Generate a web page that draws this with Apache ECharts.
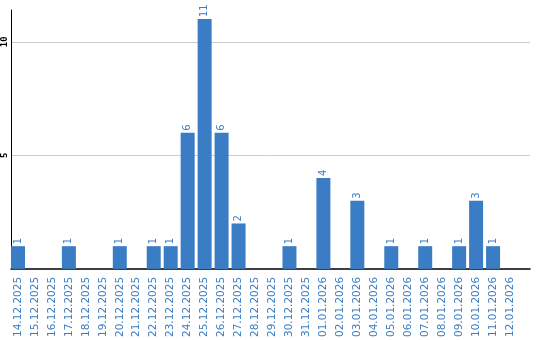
<!DOCTYPE html>
<html><head><meta charset="utf-8">
<script src="https://cdn.jsdelivr.net/npm/echarts@6/dist/echarts.min.js"></script>
<style>html,body{margin:0;padding:0;background:#fff}#c{width:540px;height:340px}</style>
</head><body><div id="c"></div>
<script>
const categories = ["14.12.2025","15.12.2025","16.12.2025","17.12.2025","18.12.2025","19.12.2025","20.12.2025","21.12.2025","22.12.2025","23.12.2025","24.12.2025","25.12.2025","26.12.2025","27.12.2025","28.12.2025","29.12.2025","30.12.2025","31.12.2025","01.01.2026","02.01.2026","03.01.2026","04.01.2026","05.01.2026","06.01.2026","07.01.2026","08.01.2026","09.01.2026","10.01.2026","11.01.2026","12.01.2026"];
const values = [1,0,0,1,0,0,1,0,1,1,6,11,6,2,0,0,1,0,4,0,3,0,1,0,1,0,1,3,1,0];
const yTicks = [5,10];

const blue = '#3b7dc4';
const chart = echarts.init(document.getElementById('c'));
const idx = categories.map((_, i) => i);
chart.setOption({
  animation: false,
  grid: {left: 10, right: 10, top: 10, bottom: 70, containLabel: false},
  xAxis: {
    type: 'value', min: -7/17, max: 520/17 - 7/17,
    axisLine: {show: true, onZero: false, lineStyle: {color: '#000', width: 1.5}},
    axisTick: {show: false},
    splitLine: {show: false},
    axisLabel: {
      customValues: idx, rotate: 90, margin: 8, color: blue,
      fontFamily: 'DejaVu Sans', fontSize: 10.5,
      formatter: v => categories[Math.round(v)]
    }
  },
  yAxis: {
    type: 'value', min: 0, max: 11.4,
    axisLine: {show: true, onZero: false, lineStyle: {color: '#000', width: 1}},
    axisTick: {show: false, customValues: yTicks},
    splitLine: {show: true, lineStyle: {color: '#ccc', width: 1}},
    axisLabel: {
      customValues: yTicks, rotate: 90, margin: 2, color: '#000',
      fontFamily: 'DejaVu Sans Mono', fontSize: 9, fontWeight: 'bold'
    }
  },
  series: [{
    type: 'bar', barWidth: 14,
    data: values.map((v, i) => v > 0 ? [i, v] : [i, null]),
    itemStyle: {color: blue},
    label: {
      show: true, position: 'top', rotate: 90, distance: 2,
      align: 'left', verticalAlign: 'middle',
      color: blue, fontFamily: 'DejaVu Sans', fontSize: 10,
      formatter: p => p.value[1]
    }
  }]
});
</script></body></html>
